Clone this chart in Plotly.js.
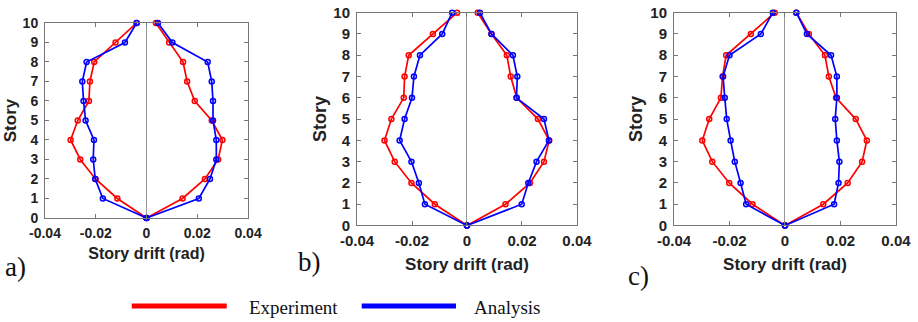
<!DOCTYPE html>
<html>
<head>
<meta charset="utf-8">
<script src="https://cdn.plot.ly/plotly-3.0.1.min.js"></script>
<style>
  html, body { margin: 0; padding: 0; background: #fff; }
  #chart { width: 918px; height: 322px; }
</style>
</head>
<body>
<div id="chart"></div>
<script>
// ---- Data (story levels from top to bottom) ----
var stories = [10, 9, 8, 7, 6, 5, 4, 3, 2, 1, 0];

var seriesNames = ['Experiment', 'Analysis'];
var panelLabels = ['a)', 'b)', 'c)'];
var xTickVals = [-0.04, -0.02, 0, 0.02, 0.04];
var xTickText = ['-0.04', '-0.02', '0', '0.02', '0.04'];
var yTickVals = [0, 1, 2, 3, 4, 5, 6, 7, 8, 9, 10];
var xTitle = 'Story drift (rad)';
var yTitle = 'Story';

// Panel a
var aExpMin = [-0.0039, -0.0122, -0.0206, -0.0223, -0.0227, -0.0271, -0.0299, -0.0261, -0.0201, -0.0115, 0];
var aExpMax = [0.0037, 0.0089, 0.0144, 0.0160, 0.0190, 0.0257, 0.0299, 0.0282, 0.0230, 0.0142, 0];
var aAnaMin = [-0.0039, -0.0085, -0.0236, -0.0253, -0.0248, -0.0240, -0.0207, -0.0210, -0.0202, -0.0172, 0];
var aAnaMax = [0.0045, 0.0102, 0.0241, 0.0257, 0.0262, 0.0262, 0.0275, 0.0275, 0.0250, 0.0206, 0];

// Panel b
var bExpMin = [-0.0036, -0.0124, -0.0212, -0.0227, -0.0230, -0.0275, -0.0300, -0.0263, -0.0202, -0.0117, 0];
var bExpMax = [0.0039, 0.0089, 0.0145, 0.0159, 0.0181, 0.0258, 0.0299, 0.0280, 0.0229, 0.0140, 0];
var bAnaMin = [-0.0054, -0.0090, -0.0171, -0.0193, -0.0200, -0.0227, -0.0245, -0.0202, -0.0175, -0.0153, 0];
var bAnaMax = [0.0047, 0.0089, 0.0167, 0.0183, 0.0180, 0.0280, 0.0298, 0.0253, 0.0223, 0.0199, 0];

// Panel c
var cExpMin = [-0.0037, -0.0123, -0.0212, -0.0225, -0.0231, -0.0273, -0.0298, -0.0262, -0.0201, -0.0117, 0];
var cExpMax = [0.0041, 0.0086, 0.0144, 0.0158, 0.0184, 0.0255, 0.0295, 0.0278, 0.0226, 0.0138, 0];
var cAnaMin = [-0.0044, -0.0087, -0.0200, -0.0223, -0.0217, -0.0210, -0.0196, -0.0181, -0.0160, -0.0140, 0];
var cAnaMax = [0.0041, 0.0079, 0.0166, 0.0187, 0.0187, 0.0181, 0.0187, 0.0196, 0.0193, 0.0177, 0];

// ---- Styling ----
var colors = ['#ff0000', '#0000ff'];
var panels = [
  {exp: [aExpMin, aExpMax], ana: [aAnaMin, aAnaMax], xd: [0.0490, 0.2702], yd: [0.3230, 0.9286], tick: 14, title: 16, xs: 8, ys: 1, lab: [0.003, 0.172]},
  {exp: [bExpMin, bExpMax], ana: [bAnaMin, bAnaMax], xd: [0.3889, 0.6285], yd: [0.2997, 0.9606], tick: 15, title: 17, xs: 9, ys: 2, lab: [0.3225, 0.186]},
  {exp: [cExpMin, cExpMax], ana: [cAnaMin, cAnaMax], xd: [0.7342, 0.9760], yd: [0.2997, 0.9606], tick: 15, title: 17, xs: 9, ys: 2, lab: [0.682, 0.143]}
];

var sansFont = 'Arial, "Liberation Sans", sans-serif';
var serifFont = '"Times New Roman", "Liberation Serif", serif';

var traces = [];
var layout = {
  width: 918, height: 322,
  margin: {l: 0, r: 0, t: 0, b: 0},
  paper_bgcolor: '#ffffff',
  plot_bgcolor: '#ffffff',
  showlegend: false,
  annotations: [],
  shapes: []
};

panels.forEach(function (p, i) {
  var n = i === 0 ? '' : String(i + 1);
  var xa = 'x' + n, ya = 'y' + n;
  var groups = [p.exp, p.ana];
  groups.forEach(function (g, s) {
    g.forEach(function (vals) {
      traces.push({
        type: 'scatter', mode: 'lines+markers',
        x: vals, y: stories,
        xaxis: xa, yaxis: ya,
        name: seriesNames[s],
        cliponaxis: false,
        line: {color: colors[s], width: 1.7},
        marker: {symbol: 'circle-open', size: 5, color: colors[s], line: {width: 1.5, color: colors[s]}}
      });
    });
  });

  layout['xaxis' + n] = {
    domain: p.xd, anchor: ya,
    range: [-0.04, 0.04],
    tickvals: xTickVals, ticktext: xTickText,
    ticks: 'inside', ticklen: 4, tickcolor: '#777',
    showline: true, mirror: 'ticks', linecolor: '#777', linewidth: 1,
    showgrid: false,
    zeroline: true, zerolinecolor: '#999', zerolinewidth: 1,
    tickfont: {family: sansFont, size: p.tick, color: '#222', weight: 'bold'},
    ticklabelstandoff: 2,
    title: {text: xTitle, font: {family: sansFont, size: p.title, color: '#222', weight: 'bold'}, standoff: p.xs},
    fixedrange: true
  };
  layout['yaxis' + n] = {
    domain: p.yd, anchor: xa,
    range: [0, 10],
    tickvals: yTickVals,
    ticks: 'inside', ticklen: 4, tickcolor: '#777',
    showline: true, mirror: 'ticks', linecolor: '#777', linewidth: 1,
    showgrid: false, zeroline: false,
    tickfont: {family: sansFont, size: p.tick, color: '#222', weight: 'bold'},
    ticklabelstandoff: 3,
    title: {text: yTitle, font: {family: sansFont, size: p.title + 1, color: '#222', weight: 'bold'}, standoff: p.ys},
    fixedrange: true
  };

  layout.annotations.push({
    text: panelLabels[i], xref: 'paper', yref: 'paper',
    x: p.lab[0], y: p.lab[1], xanchor: 'left', yanchor: 'middle',
    showarrow: false,
    font: {family: serifFont, size: 27, color: '#111'}
  });
});

// ---- Legend (drawn below the panels) ----
var legendItems = [
  {x0: 0.1435, x1: 0.2470, tx: 0.269},
  {x0: 0.3940, x1: 0.4967, tx: 0.514}
];
legendItems.forEach(function (it, s) {
  layout.shapes.push({
    type: 'line', xref: 'paper', yref: 'paper',
    x0: it.x0, x1: it.x1, y0: 0.0497, y1: 0.0497,
    line: {color: colors[s], width: 5}
  });
  layout.annotations.push({
    text: seriesNames[s], xref: 'paper', yref: 'paper',
    x: it.tx, y: 0.044, xanchor: 'left', yanchor: 'middle',
    showarrow: false,
    font: {family: serifFont, size: 19, color: '#111'}
  });
});

Plotly.newPlot('chart', traces, layout, {staticPlot: true, displayModeBar: false});
</script>
</body>
</html>
